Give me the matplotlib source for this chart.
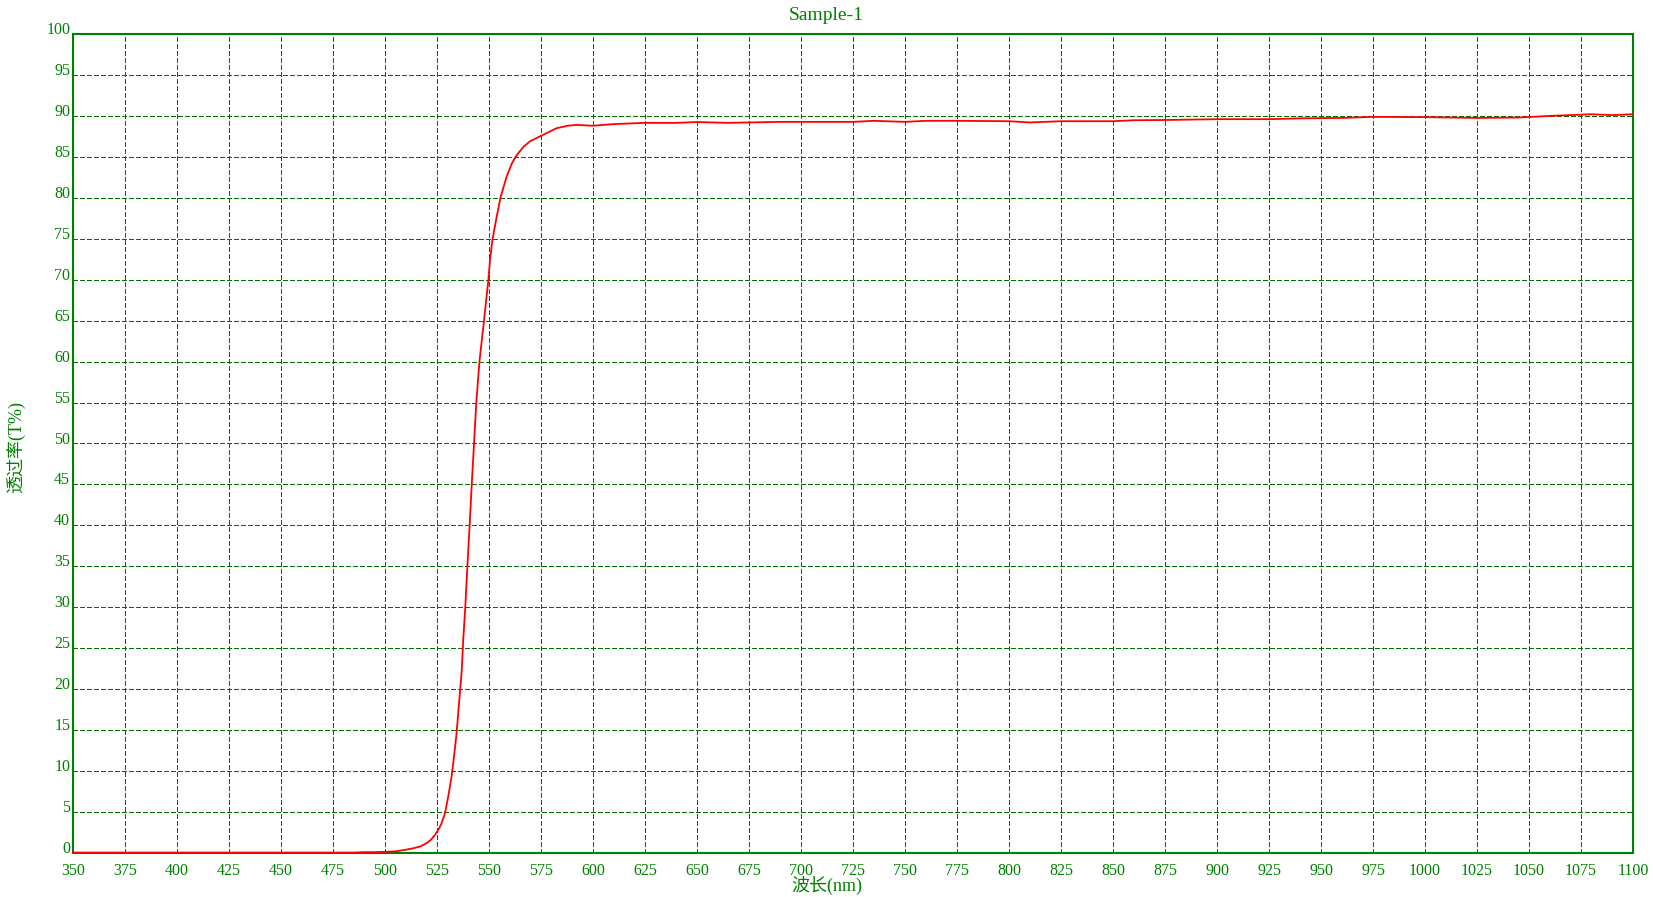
import matplotlib
matplotlib.use("Agg")
import matplotlib.pyplot as plt

# transmission spectrum
wavelength = [350, 400, 450, 485, 490, 495, 500, 505, 510, 514, 517, 520,
              522, 524, 525.5, 527, 528.8, 530.4, 532, 533.2, 534.4, 535.2,
              536, 536.9, 537.6, 538.6, 539.6, 540.7, 541.7, 542.8, 543.9,
              545.4, 547.6, 549.7, 550.5, 551.6, 553.7, 555.6, 558.5, 561, 563.3,
              566.5, 569.7, 576.1, 582.5, 588, 592, 600, 610, 620, 625, 640, 650,
              665, 675, 690, 700, 725, 735, 750, 760, 775, 800, 810, 825,
              850, 860, 875, 900, 925, 940, 960, 975, 1000, 1025, 1045, 1060,
              1080, 1090, 1100]
transmittance = [0.05, 0.05, 0.05, 0.05, 0.1, 0.1, 0.15, 0.2, 0.4, 0.6, 0.8, 1.2,
                 1.6, 2.2, 2.8, 3.5, 4.8, 6.9, 9.3, 11.8, 14.6, 17.1,
                 19.5, 22.3, 26.0, 30.0, 35.0, 40.0, 45.0, 50.0, 55.0,
                 60.0, 65.0, 70.0, 72.4, 74.8, 77.7, 80.1, 82.6, 84.2, 85.2,
                 86.2, 86.9, 87.7, 88.5, 88.8, 88.9, 88.8, 89.0, 89.1, 89.15, 89.15, 89.25,
                 89.15, 89.2, 89.27, 89.27, 89.27, 89.4, 89.27, 89.4, 89.4, 89.35, 89.2, 89.35,
                 89.35, 89.47, 89.5, 89.6, 89.6, 89.7, 89.75, 89.88, 89.85, 89.75, 89.8, 90.0,
                 90.2, 90.1, 90.2]

x_ticks = list(range(350, 1101, 25))
y_ticks = list(range(0, 101, 5))

green = "#008000"
num_font = ["Liberation Serif", "Noto Sans CJK SC"]

fig = plt.figure(figsize=(16.53, 8.97), dpi=100)
ax = fig.add_axes([73 / 1653, 1 - 853 / 897, 1560 / 1653, 819 / 897])

ax.plot(wavelength, transmittance, color="red", lw=1.3, zorder=3, clip_on=False)

ax.set_xlim(350, 1100)
ax.set_ylim(0, 100)
ax.set_xticks(x_ticks)
ax.set_yticks(y_ticks)
ax.set_xticklabels([str(v) for v in x_ticks], family=num_font, fontsize=11.5, color=green)
ax.set_yticklabels([str(v) for v in y_ticks], family=num_font, fontsize=11.5, color=green)
for lbl in ax.get_yticklabels():
    lbl.set_va("baseline")
ax.tick_params(axis="x", length=0, pad=7)
ax.tick_params(axis="y", length=0, pad=2)

ax.grid(True, color="#007000", lw=0.9, linestyle=(0, (3.5, 2.2)), antialiased=False)
for s in ax.spines.values():
    s.set_color(green)
    s.set_linewidth(1.5)

fig.text(0.5, 1 - 15 / 897, "Sample-1", ha="center", va="center",
         fontsize=14, color=green, family=num_font)
fig.text(0.5, 1 - 885 / 897, "波长(nm)", ha="center", va="center",
         fontsize=13, color=green, family=num_font)
fig.text(16 / 1653, 1 - 447 / 897, "透过率(T%)", ha="center", va="center",
         rotation=90, fontsize=13, color=green, family=num_font)

fig.savefig("out.png", dpi=100)
